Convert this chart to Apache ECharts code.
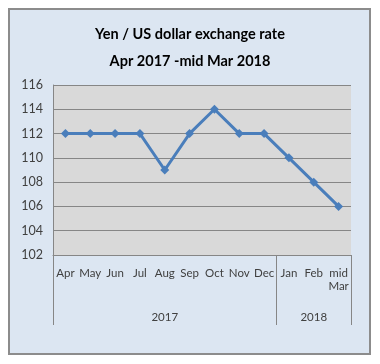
<!DOCTYPE html>
<html><head><meta charset="utf-8">
<script src="https://cdn.jsdelivr.net/npm/echarts@6/dist/echarts.min.js"></script>
<style>html,body{margin:0;padding:0;background:#fff}#c{width:380px;height:364px}</style>
</head><body><div id="c"></div>
<script>
const categories = ['Apr','May','Jun','Jul','Aug','Sep','Oct','Nov','Dec','Jan','Feb','mid\nMar'];
const rates = [112,112,112,112,109,112,114,112,112,110,108,106];
const yearLabels = ['2017','2018'];
const yearBoundaries = [0,9,12];
const yearCenters = [4.5,10.5];
const yTicks = {min:102, max:116, step:2};

const chart = echarts.init(document.getElementById('c'), null, {renderer:'canvas'});
const font = 'Lato, "Liberation Sans", sans-serif';
chart.setOption({
  backgroundColor:'#ffffff',
  animation:false,
  graphic:[{type:'rect', z:-10, shape:{x:9,y:9,width:361,height:345},
    style:{fill:'#dce6f2', stroke:'#8c8c8c', lineWidth:2}}],
  title:{text:'Yen / US dollar exchange rate\nApr 2017 -mid Mar 2018', left:'center', top:21, padding:0,
    textStyle:{fontFamily:font, fontSize:14.5, fontWeight:'bold', color:'#000', lineHeight:27}},
  grid:{left:53, right:29, top:85, bottom:109, show:true, backgroundColor:'#d9d9d9', borderWidth:0},
  xAxis:[{type:'category', data:categories, boundaryGap:true,
    axisLine:{show:true, lineStyle:{color:'#868686', width:1}},
    axisTick:{show:false},
    axisLabel:{interval:0, margin:12, fontFamily:font, fontSize:11.5, color:'#404040', lineHeight:13}},
   {type:'value', min:0, max:12, position:'bottom', gridIndex:0,
    axisLine:{show:false}, splitLine:{show:false},
    axisTick:{show:true, customValues:yearBoundaries, length:70, lineStyle:{color:'#868686', width:1}},
    axisLabel:{show:true, customValues:yearCenters, margin:56, fontFamily:font, fontSize:11.5, color:'#404040',
      formatter:v => v < 9 ? yearLabels[0] : yearLabels[1]}}],
  yAxis:{type:'value', min:yTicks.min, max:yTicks.max, interval:yTicks.step,
    axisLine:{show:true, lineStyle:{color:'#868686'}}, axisTick:{show:false},
    splitLine:{lineStyle:{color:'#868686', width:1}},
    axisLabel:{margin:10, fontFamily:font, fontSize:12.5, color:'#404040'}},
  series:[{type:'line', data:rates, xAxisIndex:0, color:'#4a7ebb',
    lineStyle:{width:3, color:'#4a7ebb'}, symbol:'diamond', symbolSize:9,
    itemStyle:{color:'#4a7ebb'}}]
});
</script></body></html>
